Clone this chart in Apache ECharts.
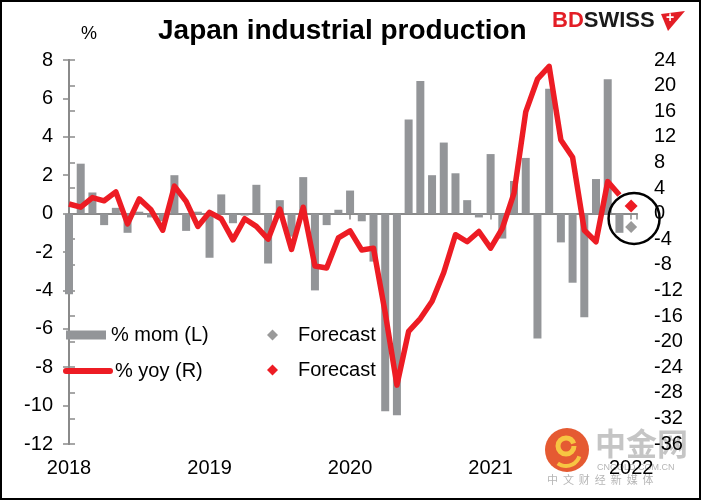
<!DOCTYPE html>
<html>
<head>
<meta charset="utf-8">
<title>Japan industrial production</title>
<script src="https://cdn.jsdelivr.net/npm/echarts@6/dist/echarts.min.js"></script>
</head>
<body style="margin:0;background:#fff">
<div id="chart" style="width:701px;height:500px;"></div>
<script>
// month index 0 = Jan 2018, one value per month up to Dec 2021
var yearLabels = ['2018', '2019', '2020', '2021', '2022'];
var momData = [
    -4.2, 2.6, 1.1, -0.6, 0.3, -1.0, 0.1, -0.2, -0.4, 2.0, -0.9, 0.1,
    -2.3, 1.0, -0.5, -0.1, 1.5, -2.6, 0.7, -1.2, 1.9, -4.0, -0.6, 0.2,
    1.2, -0.4, -2.5, -10.3, -10.5, 4.9, 6.9, 2.0, 3.7, 2.1, 0.7, -0.2,
    3.1, -1.3, 1.7, 2.9, -6.5, 6.5, -1.5, -3.6, -5.4, 1.8, 7.0, -1.0
];
var yoyData = [
    1.5, 1.0, 2.5, 2.0, 3.4, -1.6, 2.3, 0.6, -2.6, 4.3, 1.9, -2.0,
    0.2, -0.8, -4.1, -0.8, -2.0, -4.0, 0.7, -5.6, 1.0, -8.2, -8.5, -3.8,
    -2.7, -5.7, -5.4, -15.5, -26.8, -18.4, -16.4, -13.7, -9.2, -3.3, -4.4, -2.8,
    -5.4, -2.3, 3.2, 15.9, 21.0, 23.0, 11.5, 8.8, -2.6, -4.4, 5.0, 2.9
];
// Jan 2022 forecasts
var forecastIndex = 48;
var momForecast = -0.7;
var yoyForecast = 1.2;

var FONT = "'Liberation Sans', Arial, sans-serif";
var GREY = '#939598';
var RED = '#ed1c24';
var AXIS = '#8a8a8a';

function withIndex(arr) {
    return arr.map(function (v, i) { return [i, v]; });
}

var option = {
    animation: false,
    backgroundColor: '#fff',
    textStyle: { fontFamily: FONT },
    title: {
        text: 'Japan industrial production',
        left: 153,
        top: 12,
        textStyle: { fontFamily: FONT, fontSize: 28, fontWeight: 'bold', color: '#000' }
    },
    grid: { left: 69, right: 64, top: 60, bottom: 56 },
    legend: [
        {
            data: [{ name: '% mom (L)', icon: 'rect' }],
            left: 66, top: 325, padding: 0,
            itemWidth: 40, itemHeight: 9,
            selectedMode: false,
            textStyle: { fontFamily: FONT, fontSize: 20, color: '#000' }
        },
        {
            data: [{ name: '% yoy (R)' }],
            left: 63, top: 361, padding: 0,
            itemWidth: 44, itemHeight: 6,
            selectedMode: false,
            lineStyle: { width: 6, cap: 'round' },
            textStyle: { fontFamily: FONT, fontSize: 20, color: '#000' }
        },
        {
            data: [{ name: 'Forecast mom', icon: 'diamond' }, { name: 'Forecast yoy', icon: 'diamond' }],
            orient: 'vertical',
            left: 267, top: 325, padding: 0,
            itemWidth: 11, itemHeight: 11, itemGap: 15,
            selectedMode: false,
            formatter: function () { return 'Forecast'; },
            textStyle: { fontFamily: FONT, fontSize: 20, color: '#000', padding: [0, 0, 0, 15] }
        }
    ],
    xAxis: [
        {
            type: 'value', min: 0, max: 48.5, interval: 12,
            axisLine: { onZero: true, lineStyle: { color: AXIS, width: 2 } },
            axisTick: { show: true, length: 6, lineStyle: { color: AXIS, width: 1.5 } },
            axisLabel: { show: false },
            splitLine: { show: false }
        },
        {
            type: 'value', min: 0, max: 48.5, interval: 12, position: 'bottom',
            axisLine: { show: false, onZero: false },
            axisTick: { show: false },
            splitLine: { show: false },
            axisLabel: {
                margin: 14, fontSize: 20, color: '#000', fontFamily: FONT,
                formatter: function (v) {
                    return v % 12 === 0 ? yearLabels[v / 12] : '';
                }
            }
        }
    ],
    yAxis: [
        {
            type: 'value', min: -12, max: 8, interval: 2,
            axisLine: { show: true, lineStyle: { color: AXIS, width: 2 } },
            axisTick: { show: true, length: 6, lineStyle: { color: AXIS, width: 1.5 } },
            axisLabel: { margin: 16, fontSize: 20, color: '#000', fontFamily: FONT },
            splitLine: { show: false }
        },
        {
            type: 'value', min: -36, max: 24, interval: 4, position: 'right',
            axisLine: { show: true, lineStyle: { color: AXIS, width: 2 } },
            axisTick: { show: true, length: 6, lineStyle: { color: AXIS, width: 1.5 } },
            axisLabel: { margin: 17, fontSize: 20, color: '#000', fontFamily: FONT },
            splitLine: { show: false }
        }
    ],
    series: [
        {
            name: '% mom (L)',
            type: 'bar',
            xAxisIndex: 0, yAxisIndex: 0,
            barWidth: 8,
            clip: true,
            itemStyle: { color: GREY },
            data: withIndex(momData)
        },
        {
            name: '% yoy (R)',
            type: 'line',
            xAxisIndex: 0, yAxisIndex: 1,
            symbol: 'none',
            itemStyle: { color: RED },
            lineStyle: { color: RED, width: 5.5, join: 'round' },
            data: withIndex(yoyData)
        },
        {
            name: 'Forecast mom',
            type: 'scatter',
            xAxisIndex: 0, yAxisIndex: 0,
            symbol: 'diamond', symbolSize: 12,
            itemStyle: { color: '#9a9a9a', opacity: 1 },
            data: [[forecastIndex, momForecast]]
        },
        {
            name: 'Forecast yoy',
            type: 'scatter',
            xAxisIndex: 0, yAxisIndex: 1,
            symbol: 'diamond', symbolSize: 13,
            itemStyle: { color: RED, opacity: 1 },
            data: [[forecastIndex, yoyForecast]]
        }
    ],
    graphic: [
        // outer frame
        { type: 'rect', shape: { x: 1, y: 1, width: 699, height: 498 }, style: { fill: 'none', stroke: '#000', lineWidth: 2 }, z: 100 },
        // unit label
        { type: 'text', left: 81, top: 25, style: { text: '%', fontSize: 18, fontFamily: FONT, fill: '#000' } },
        // BDSWISS logo
        {
            type: 'text', left: 552, top: 10,
            style: {
                text: '{a|BD}{b|SWISS}',
                rich: {
                    a: { fontSize: 22, fontWeight: 'bold', fontFamily: FONT, fill: '#e31e26' },
                    b: { fontSize: 22, fontWeight: 'bold', fontFamily: FONT, fill: '#1a1a1a' }
                }
            }
        },
        { type: 'polygon', shape: { points: [[661, 14], [685, 11], [668, 31]] }, style: { fill: '#e31e26' } },
        { type: 'text', left: 666, top: 11, style: { text: '+', fontSize: 14, fontWeight: 'bold', fontFamily: FONT, fill: '#fff' } },
        // watermark
        { type: 'circle', shape: { cx: 567, cy: 450, r: 22 }, style: { fill: '#e2481c', opacity: 0.9 } },
        { type: 'arc', shape: { cx: 566, cy: 446, r: 8, startAngle: 0, endAngle: Math.PI * 1.9 }, style: { stroke: '#f7c542', lineWidth: 5, fill: 'none' } },
        { type: 'arc', shape: { cx: 566, cy: 452, r: 14, startAngle: Math.PI * 0.1, endAngle: Math.PI * 0.7 }, style: { stroke: '#f7c542', lineWidth: 4, fill: 'none' } },
        { type: 'text', left: 595, top: 428, style: { text: '中金网', fontSize: 31, fontWeight: 'bold', fontFamily: "'Noto Sans CJK SC'", fill: 'rgba(150,150,150,0.55)' } },
        { type: 'text', left: 597, top: 463, style: { text: 'CNGOLD.COM.CN', fontSize: 9, fontFamily: FONT, fill: 'rgba(150,150,150,0.7)' } },
        { type: 'text', left: 547, top: 474, style: { text: '中  文  财  经  新  媒  体', fontSize: 11, fontFamily: "'Noto Sans CJK SC'", fill: 'rgba(150,150,150,0.7)' } }
    ]
};

var chart = echarts.init(document.getElementById('chart'));
chart.setOption(option);

// ring round the forecast points
var ringCentre = chart.convertToPixel({ xAxisIndex: 0, yAxisIndex: 0 }, [forecastIndex + 0.25, -0.25]);
chart.setOption({
    graphic: option.graphic.concat([{
        type: 'circle',
        shape: { cx: ringCentre[0], cy: ringCentre[1], r: 25.5 },
        style: { fill: 'none', stroke: '#000', lineWidth: 2.5 },
        z: 50
    }])
});
</script>
</body>
</html>
